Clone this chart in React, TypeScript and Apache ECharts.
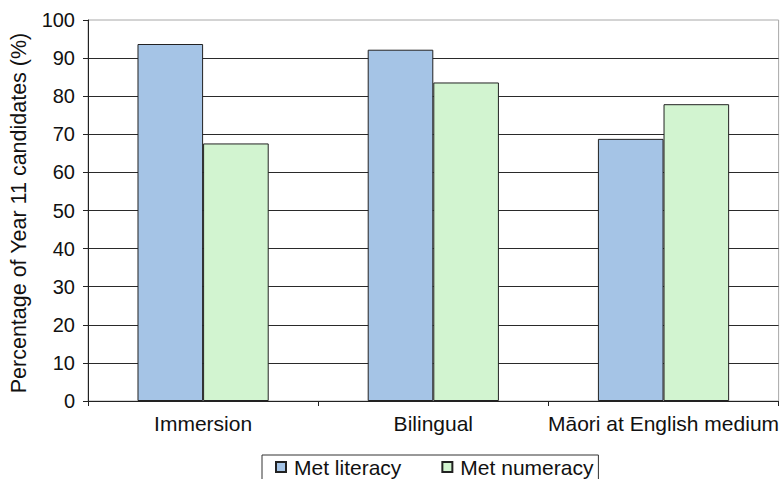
import React, { useEffect, useRef } from "react";
import * as echarts from "echarts";

// Year 11 literacy / numeracy attainment by schooling type
const categories = ["Immersion", "Bilingual", "Māori at English medium"];
const literacy = [93.7, 92.2, 68.8];
const numeracy = [67.6, 83.6, 77.9];
const seriesNames = ["Met literacy", "Met numeracy"];
const yTitle = "Percentage of Year 11 candidates (%)";

const FONT = "'Liberation Sans', Arial, Helvetica, sans-serif";
const INK = "#111111";

export default function App() {
  const ref = useRef<HTMLDivElement>(null);

  useEffect(() => {
    if (!ref.current) return;
    const chart = echarts.init(ref.current, undefined, { renderer: "svg" });
    chart.setOption({
      animation: false,
      backgroundColor: "#ffffff",
      textStyle: { fontFamily: FONT },
      grid: {
        left: 88,
        top: 20,
        width: 691,
        height: 381,
        show: true,
        borderColor: "#a8a8a8",
        borderWidth: 1,
        containLabel: false,
      },
      legend: {
        data: seriesNames,
        left: 262,
        top: 455,
        orient: "horizontal",
        itemWidth: 10,
        itemHeight: 10,
        itemGap: 40,
        padding: [1.5, 5, 5, 13],
        borderColor: "#333",
        borderWidth: 1,
        icon: "rect",
        textStyle: {
          fontFamily: FONT,
          fontSize: 21,
          color: INK,
          padding: [0, 0, 0, 3],
        },
      },
      graphic: [
        {
          type: "text",
          x: 18.5,
          y: 213,
          rotation: Math.PI / 2,
          style: {
            text: yTitle,
            font: `21.5px ${FONT}`,
            fill: INK,
            textAlign: "center",
            textVerticalAlign: "middle",
          },
        },
      ],
      xAxis: {
        type: "category",
        data: categories,
        boundaryGap: true,
        axisLine: { show: true, lineStyle: { color: "#222", width: 1 } },
        axisTick: { show: true, length: 5, inside: false, alignWithLabel: false, lineStyle: { color: "#222" } },
        axisLabel: { fontSize: 21, color: INK, margin: 12, fontFamily: FONT, interval: 0 },
        splitLine: { show: false },
      },
      yAxis: {
        type: "value",
        min: 0,
        max: 100,
        interval: 10,
        axisLine: { show: true, lineStyle: { color: "#222", width: 1 } },
        axisTick: { show: true, length: 5, inside: false, lineStyle: { color: "#222" } },
        axisLabel: { fontSize: 20, color: INK, margin: 13, fontFamily: FONT },
        splitLine: {
          show: true,
          showMaxLine: false,
          lineStyle: { color: "#2a2a2a", width: 1 },
        },
      },
      series: [
        {
          name: seriesNames[0],
          type: "bar",
          data: literacy,
          barGap: "0%",
          barCategoryGap: "43%",
          itemStyle: { color: "#a5c4e6", borderColor: "#222", borderWidth: 1 },
        },
        {
          name: seriesNames[1],
          type: "bar",
          data: numeracy,
          barGap: "0%",
          barCategoryGap: "43%",
          itemStyle: { color: "#d2f4d0", borderColor: "#222", borderWidth: 1 },
        },
      ],
    });
    return () => chart.dispose();
  }, []);

  return (
    <div
      ref={ref}
      style={{ position: "fixed", left: 0, top: 0, width: 782, height: 479, background: "#fff" }}
    />
  );
}
